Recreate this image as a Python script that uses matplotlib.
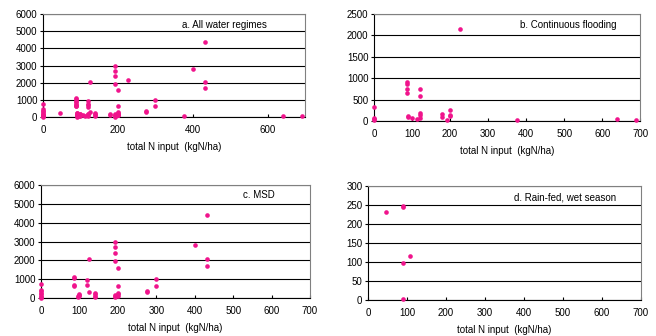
import matplotlib.pyplot as plt
import numpy as np

plt.rcParams['font.family'] = ['Liberation Sans', 'DejaVu Sans']

# c. MSD
msd_x = [0, 0, 0, 0, 0, 0, 0, 0,
         87, 87, 87, 87,
         97, 97, 100, 100, 100,
         120, 120, 125, 125,
         140, 140, 140, 140,
         192, 192, 192, 192, 192, 192, 192,
         200, 200, 200, 200, 200,
         275, 275, 300, 300, 400, 432, 432, 432]
msd_y = [750, 450, 350, 250, 200, 100, 50, 0,
         1100, 1050, 700, 650,
         50, 100, 150, 200, 100,
         950, 700, 2050, 300,
         250, 200, 100, 50,
         3000, 2700, 2400, 1950, 150, 100, 50,
         1600, 650, 250, 200, 100,
         350, 300, 1000, 650, 2800, 4400, 2050, 1700]

# b. Continuous flooding
cf_x = [0, 0, 0, 0,
        87, 87, 87, 87,
        90, 90, 100, 112,
        120, 120, 120, 120, 120,
        180, 180, 192,
        200, 200, 200,
        226, 375, 640, 690]
cf_y = [320, 70, 40, 30,
        920, 870, 750, 650,
        110, 100, 60, 50,
        740, 590, 180, 150, 60,
        170, 90, 20,
        260, 130, 110,
        2150, 30, 40, 30]

# d. Rain-fed, wet season
rf_x = [45, 90, 90, 90, 90, 107]
rf_y = [232, 248, 245, 97, 3, 115]

# a. All water regimes = all of the above
all_x = msd_x + cf_x + rf_x
all_y = msd_y + cf_y + rf_y

panels = [
    ([0.0655, 0.652, 0.40, 0.306], all_x, all_y, 'a. All water regimes',
     6000, 1000, [0, 200, 400, 600], (0.855, 0.89)),
    ([0.570, 0.640, 0.406, 0.318], cf_x, cf_y, 'b. Continuous flooding',
     2500, 500, list(range(0, 701, 100)), (0.91, 0.90)),
    ([0.0625, 0.113, 0.41, 0.336], msd_x, msd_y, 'c. MSD',
     6000, 1000, list(range(0, 701, 100)), (0.87, 0.91)),
    ([0.561, 0.107, 0.416, 0.339], rf_x, rf_y, 'd. Rain-fed, wet season',
     300, 50, list(range(0, 701, 100)), (0.91, 0.90)),
]

pink = '#F0148C'
fs = 7
fig = plt.figure(figsize=(6.56, 3.36), dpi=100)

for rect, xs, ys, title, ymax, ystep, xticks, tpos in panels:
    ax = fig.add_axes(rect)
    ax.set_xlim(0, 700)
    ax.set_ylim(0, ymax)
    ax.set_yticks(np.arange(0, ymax + 1, ystep))
    ax.set_xticks(xticks)
    ax.yaxis.grid(True, color='black', linewidth=0.8)
    ax.set_axisbelow(True)
    ax.scatter(xs, ys, s=11, marker='o', color=pink, linewidths=0, zorder=3, clip_on=False)
    ax.text(tpos[0], tpos[1], title, transform=ax.transAxes, ha='right', va='center', fontsize=fs)
    ax.set_xlabel('total N input  (kgN/ha)', fontsize=fs, labelpad=5)
    ax.tick_params(axis='both', labelsize=fs, length=2, width=0.8, pad=2)
    ax.tick_params(axis='x', direction='in', pad=6)
    for s in ['left', 'bottom']:
        ax.spines[s].set_color('black')
        ax.spines[s].set_linewidth(0.8)
    for s in ['top', 'right']:
        ax.spines[s].set_color('#808080')
        ax.spines[s].set_linewidth(0.8)

fig.savefig('out.png', dpi=100)
